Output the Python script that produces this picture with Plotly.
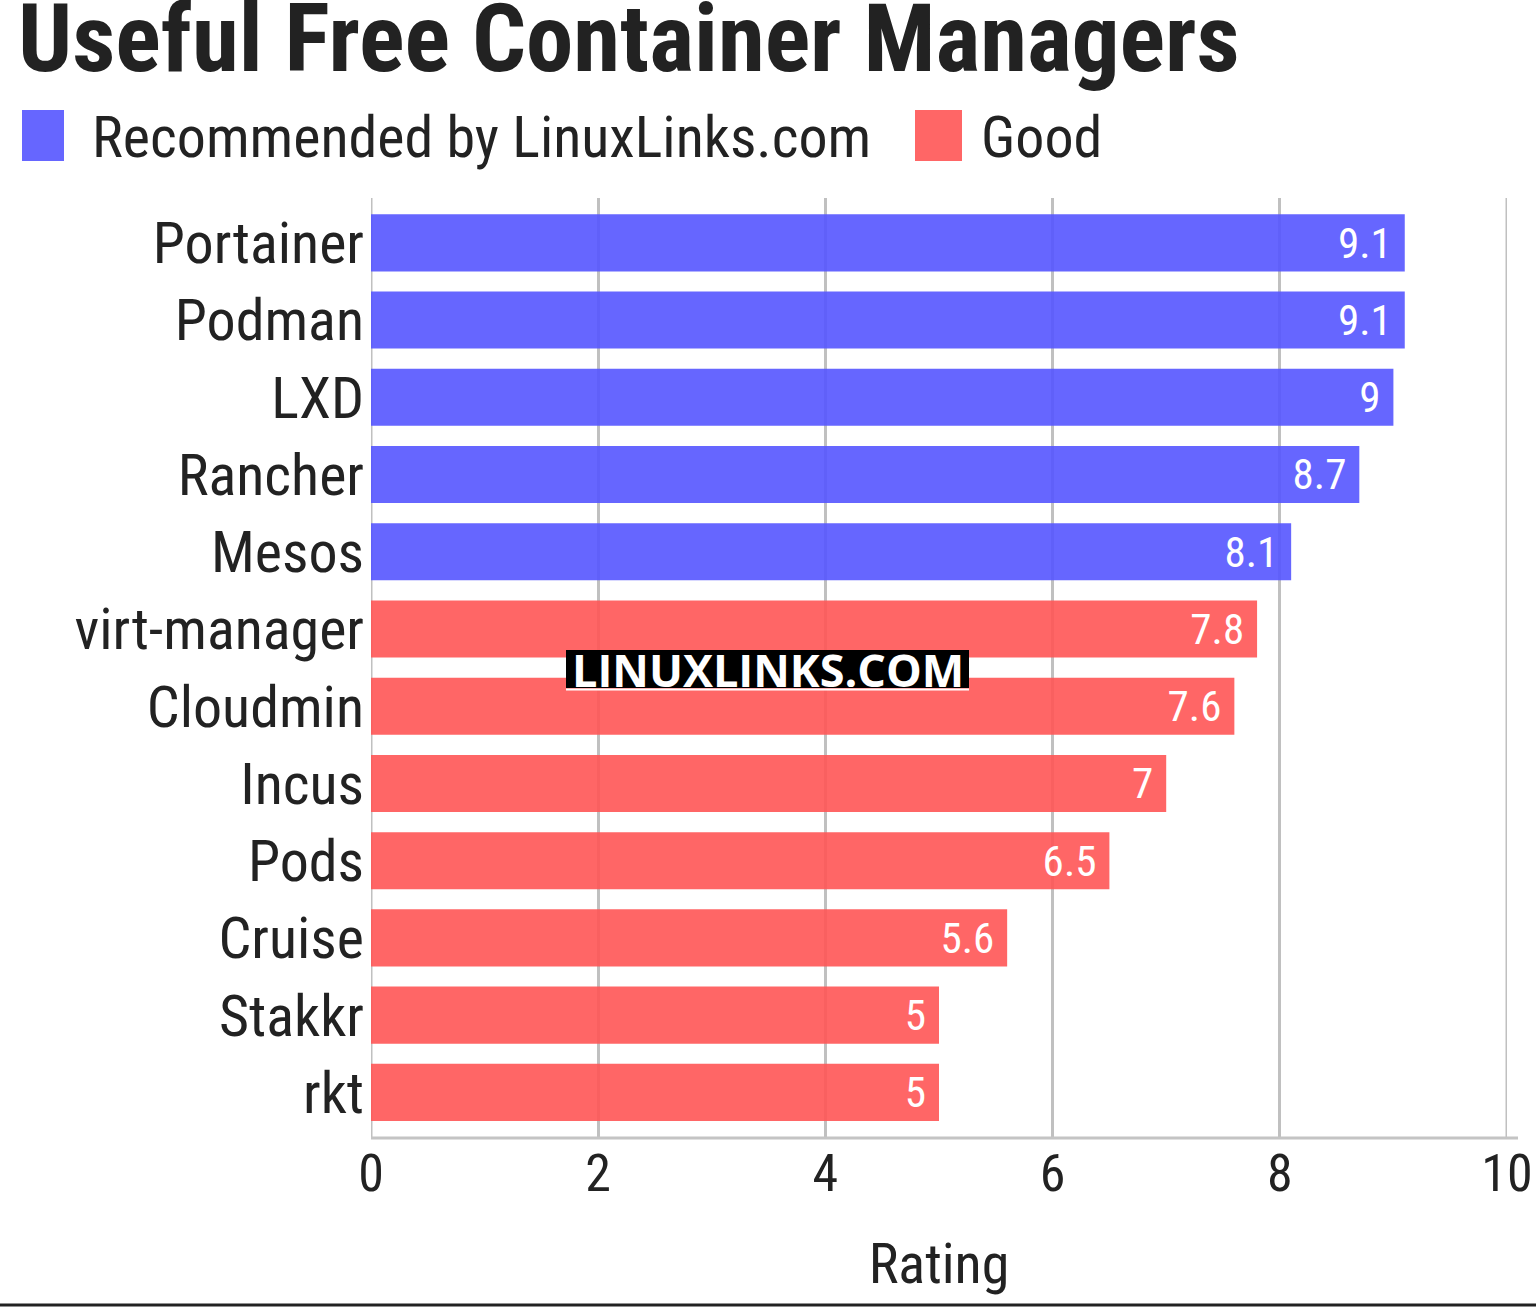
import plotly.graph_objects as go

categories = ["Portainer", "Podman", "LXD", "Rancher", "Mesos", "virt-manager",
              "Cloudmin", "Incus", "Pods", "Cruise", "Stakkr", "rkt"]
ratings = [9.1, 9.1, 9.0, 8.7, 8.1, 7.8, 7.6, 7.0, 6.5, 5.6, 5.0, 5.0]
groups = ["Recommended by LinuxLinks.com"] * 5 + ["Good"] * 7
group_colors = {"Recommended by LinuxLinks.com": "#6666ff", "Good": "#ff6666"}
bar_fill = {"Recommended by LinuxLinks.com": "#5555ff", "Good": "#ff5555"}
x_ticks = [0, 2, 4, 6, 8, 10]

FONT = "Roboto Condensed, Roboto, sans-serif"
W, H = 1536, 1307
L, R, T, B = 371, 29, 198, 169
PW, PH = W - L - R, H - T - B


def px(xp):
    return (xp - L) / PW


def py(yp):
    return (H - B - yp) / PH


fig = go.Figure()
for g in group_colors:
    idx = [i for i, gg in enumerate(groups) if gg == g]
    fig.add_trace(go.Bar(
        y=[categories[i] for i in idx],
        x=[ratings[i] for i in idx],
        orientation="h",
        name=g,
        marker=dict(color=bar_fill[g], opacity=0.9, line=dict(width=0)),
        text=[f"{ratings[i]:g}\u00a0" for i in idx],
        textposition="inside",
        insidetextanchor="end",
        textangle=0,
        textfont=dict(family=FONT, size=48, color="white"),
        showlegend=False,
        cliponaxis=False,
    ))

shapes = []
# grid lines at the range edges (plotly omits them)
for t in (x_ticks[0], x_ticks[-1]):
    shapes.append(dict(type="line", xref="x", yref="paper", x0=t, x1=t, y0=0, y1=1,
                       line=dict(color="#c0c0c0", width=3), layer="below"))
# bottom axis line
shapes.append(dict(type="line", xref="paper", yref="paper", x0=0, x1=px(1518), y0=0, y1=0,
                   line=dict(color="#c4c4c4", width=3), layer="above"))
# bottom black rule
shapes.append(dict(type="line", xref="paper", yref="paper", x0=px(0), x1=px(W), y0=py(1305), y1=py(1305),
                   line=dict(color="#222222", width=3)))
# legend squares
legend_items = [("Recommended by LinuxLinks.com", 22, 64, 90), ("Good", 915, 962, 979)]
annotations = []
for name, x0, x1, tx in legend_items:
    shapes.append(dict(type="rect", xref="paper", yref="paper", x0=px(x0), x1=px(x1),
                       y0=py(161), y1=py(110), fillcolor=group_colors[name], line=dict(width=0)))
    annotations.append(dict(text=name, xref="paper", yref="paper", x=px(tx), y=py(137),
                            xanchor="left", yanchor="middle", showarrow=False,
                            font=dict(family=FONT, size=58, color="#222222")))

# watermark
shapes.append(dict(type="rect", xref="paper", yref="paper", x0=px(566), x1=px(969),
                   y0=py(688), y1=py(650), fillcolor="black", line=dict(width=0), layer="above"))
shapes.append(dict(type="line", xref="paper", yref="paper", x0=px(566), x1=px(969),
                   y0=py(689.5), y1=py(689.5), line=dict(color="white", width=2), layer="above"))
annotations.append(dict(text="<b>LINUXLINKS.COM</b>", xref="paper", yref="paper",
                        x=px(768), y=py(669), xanchor="center", yanchor="middle", showarrow=False,
                        font=dict(family="Open Sans, sans-serif", size=45, color="white")))

fig.update_layout(
    width=W, height=H, autosize=False,
    margin=dict(l=L, r=R, t=T, b=B, pad=0, autoexpand=False),
    paper_bgcolor="white", plot_bgcolor="white",
    barmode="overlay", bargap=0.26,
    title=dict(text="<b>Useful Free Container Managers</b>", x=18 / W, xanchor="left",
               xref="container", y=1 - 4 / H, yanchor="top", yref="container",
               font=dict(family=FONT, size=95, color="#222222")),
    xaxis=dict(range=[0, 10], tickvals=x_ticks, showgrid=True, gridcolor="#c0c0c0", gridwidth=3,
               zeroline=False, automargin=False,
               showline=False, ticks="", tickfont=dict(family=FONT, size=52, color="#222222"),
               title=dict(text="Rating", font=dict(family=FONT, size=56, color="#222222"), standoff=40)),
    yaxis=dict(categoryorder="array", categoryarray=categories, range=[11.59, -0.58],
               automargin=False,
               showgrid=False, zeroline=False, showline=False, ticks="",
               tickfont=dict(family=FONT, size=58, color="#222222"), ticklabelstandoff=6),
    shapes=shapes, annotations=annotations,
    font=dict(family=FONT),
)

fig.write_html(
    "out.html",
    config={"responsive": False, "displayModeBar": False},
    default_width=f"{W}px", default_height=f"{H}px",
    post_script="document.body.style.margin='0';document.body.style.overflow='hidden';"
                "document.documentElement.style.overflow='hidden';",
)
